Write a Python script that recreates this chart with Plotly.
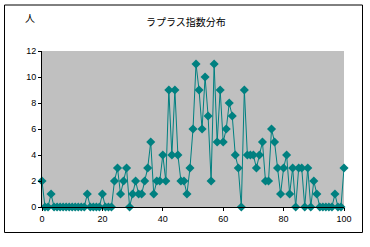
import plotly.graph_objects as go

x_values = list(range(0, 101))
counts = [
    2, 0, 0, 1, 0, 0, 0, 0, 0, 0,
    0, 0, 0, 0, 0, 1, 0, 0, 0, 0,
    1, 0, 0, 0, 2, 3, 1, 2, 3, 0,
    1, 2, 1, 1, 2, 3, 5, 1, 2, 2,
    4, 2, 9, 4, 9, 4, 2, 2, 1, 3,
    6, 11, 9, 6, 10, 7, 2, 11, 5, 9,
    5, 6, 8, 7, 4, 3, 0, 9, 4, 4,
    4, 3, 4, 5, 2, 2, 6, 5, 3, 1,
    3, 4, 1, 3, 0, 3, 3, 0, 3, 0,
    2, 1, 0, 0, 0, 0, 0, 1, 0, 0,
    3,
]
x_ticks = [0, 20, 40, 60, 80, 100]
y_ticks = [0, 2, 4, 6, 8, 10, 12]
title_text = "ラプラス指数分布"
y_unit = "人"

W, H = 370, 247
L, R, T, B = 42, 26, 51, 40
pw, ph = W - L - R, H - T - B

def px_x(p):
    return (p - L) / pw

def px_y(p):
    return (H - B - p) / ph

fig = go.Figure()
fig.add_trace(go.Scatter(
    x=x_values, y=counts, mode="lines+markers",
    line=dict(color="#008080", width=1),
    marker=dict(symbol="diamond", size=7, color="#008080"),
    cliponaxis=False, showlegend=False,
))

fig.update_layout(
    width=W, height=H,
    margin=dict(l=L, r=R, t=T, b=B, pad=0),
    paper_bgcolor="white", plot_bgcolor="#C0C0C0",
    font=dict(family="Liberation Sans, Arial, sans-serif", size=9, color="black"),
    xaxis=dict(range=[0, 100], tickvals=x_ticks, showgrid=False, zeroline=False,
               showline=True, linecolor="black", linewidth=1,
               ticks="outside", ticklen=3, tickcolor="black", tickfont=dict(size=9)),
    yaxis=dict(range=[0, 12], tickvals=y_ticks, showgrid=False, zeroline=False,
               showline=True, linecolor="black", linewidth=1,
               ticks="outside", ticklen=3, tickcolor="black", tickfont=dict(size=9)),
    shapes=[dict(type="rect", xref="paper", yref="paper",
                 x0=px_x(4.5), x1=px_x(362.5), y0=px_y(232.5), y1=px_y(5),
                 line=dict(color="black", width=1), fillcolor="rgba(0,0,0,0)",
                 layer="below")],
    annotations=[
        dict(text=title_text, xref="paper", yref="paper", x=px_x(186), y=px_y(21),
             showarrow=False, xanchor="center", yanchor="middle",
             font=dict(family="Noto Sans CJK JP", size=10)),
        dict(text=y_unit, xref="paper", yref="paper", x=px_x(30), y=px_y(17),
             showarrow=False, xanchor="center", yanchor="middle",
             font=dict(family="Noto Sans CJK JP", size=10)),
    ],
)

fig.write_html("out.html")
